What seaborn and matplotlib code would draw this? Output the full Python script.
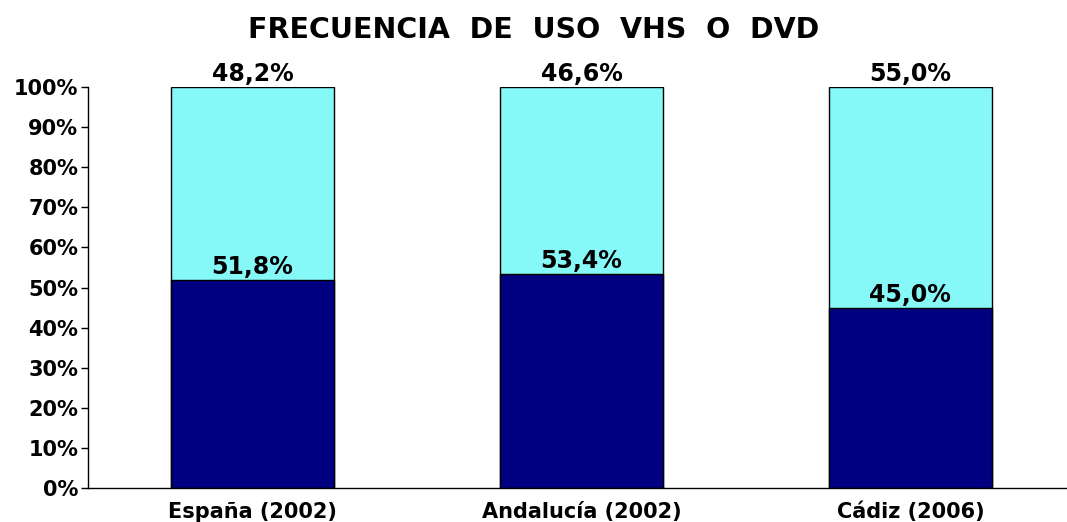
import matplotlib
matplotlib.use("Agg")
import matplotlib.pyplot as plt
import seaborn as sns
import pandas as pd
import numpy as np

categories = ["España (2002)", "Andalucía (2002)", "Cádiz (2006)"]
lower_vals = [51.8, 53.4, 45.0]
upper_vals = [48.2, 46.6, 55.0]
lower_labels = ["51,8%", "53,4%", "45,0%"]
upper_labels = ["48,2%", "46,6%", "55,0%"]
yticks = [0, 10, 20, 30, 40, 50, 60, 70, 80, 90, 100]

sns.set_theme(style="white")
plt.rcParams['font.family'] = ['DejaVu Sans']

df = pd.DataFrame({"cat": categories, "lower": lower_vals,
                   "total": np.array(lower_vals) + np.array(upper_vals)})

fig = plt.figure(figsize=(10.67, 5.22), dpi=100)
ax = fig.add_axes([88/1067, 1 - 488/522, (1067 - 88)/1067, (488 - 87)/522])

sns.barplot(data=df, x="cat", y="total", color="#86F8F8", saturation=1,
            width=0.495, edgecolor="black", linewidth=1, ax=ax)
sns.barplot(data=df, x="cat", y="lower", color="#000080", saturation=1,
            width=0.495, edgecolor="black", linewidth=1, ax=ax)

for i, (lo, up) in enumerate(zip(lower_vals, upper_vals)):
    ax.text(i, lo + 0.2, lower_labels[i], ha="center", va="bottom",
            fontsize=17, fontweight="bold", color="black")
    ax.text(i, lo + up + 0.2, upper_labels[i], ha="center", va="bottom",
            fontsize=17, fontweight="bold", color="black")

ax.set_ylim(0, 100)
ax.set_xlim(-0.5, 2.476)
ax.set_yticks(yticks)
ax.set_yticklabels([f"{t}%" for t in yticks])
ax.set_xlabel("")
ax.set_ylabel("")
for lab in ax.get_xticklabels() + ax.get_yticklabels():
    lab.set_fontweight("bold")
    lab.set_fontsize(15)
    lab.set_color("black")
ax.tick_params(axis="y", left=True, length=5, width=1, color="black", pad=2)
ax.tick_params(axis="x", bottom=False, pad=4)
for s in ["top", "right"]:
    ax.spines[s].set_visible(False)
for s in ["left", "bottom"]:
    ax.spines[s].set_color("black")
    ax.spines[s].set_linewidth(1)
ax.grid(False)

fig.text(0.5, 1 - 30/522, "FRECUENCIA  DE  USO  VHS  O  DVD", ha="center", va="center",
         fontsize=20.5, fontweight="bold", color="black")

fig.savefig("out.png", dpi=100)
